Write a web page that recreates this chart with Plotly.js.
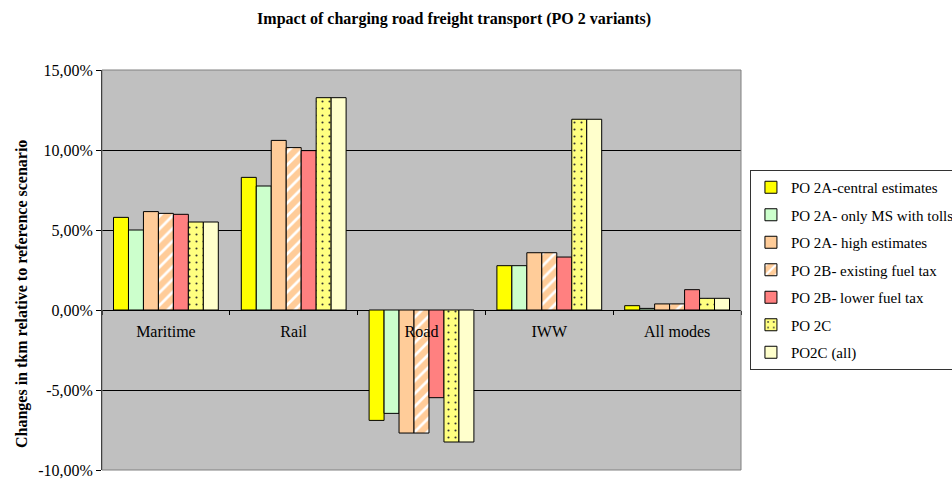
<!DOCTYPE html>
<html>
<head>
<meta charset="utf-8">
<script src="https://cdn.plot.ly/plotly-3.0.1.min.js"></script>
<style>html,body{margin:0;padding:0;background:#fff;}#chart{width:952px;height:479px;}</style>
</head>
<body>
<div id="chart"></div>
<script>
const categories = ["Maritime", "Rail", "Road", "IWW", "All modes"];
const seriesNames = ["PO 2A-central estimates", "PO 2A- only MS with tolls", "PO 2A- high estimates", "PO 2B- existing fuel tax", "PO 2B- lower fuel tax", "PO 2C", "PO2C (all)"];
const po2aCentral = [5.79, 8.29, -6.90, 2.77, 0.27];
const po2aOnlyMS = [5.00, 7.75, -6.46, 2.77, 0.10];
const po2aHigh = [6.15, 10.60, -7.69, 3.58, 0.38];
const po2bExisting = [6.04, 10.15, -7.69, 3.58, 0.38];
const po2bLower = [5.98, 9.96, -5.48, 3.31, 1.27];
const po2c = [5.50, 13.27, -8.25, 11.92, 0.73];
const po2cAll = [5.50, 13.27, -8.25, 11.92, 0.73];
const yTickVals = [-10, -5, 0, 5, 10, 15];
const yTickText = ["-10,00%", "-5,00%", "0,00%", "5,00%", "10,00%", "15,00%"];
const yTitle = "Changes in tkm relative to reference scenario";
const chartTitle = "Impact of charging road freight transport (PO 2 variants)";

const values = [po2aCentral, po2aOnlyMS, po2aHigh, po2bExisting, po2bLower, po2c, po2cAll];
const colors = ["#FFFF00", "#CCFFCC", "#FFCC99", "#FFCC99", "#FF8080", "#FFFF80", "#FFFFCC"];
const patterns = [null, null, null,
  {shape: "/", fgcolor: "#FFFFFF", bgcolor: "#FFCC99", size: 9, solidity: 0.3},
  null,
  {shape: ".", fgcolor: "#333333", bgcolor: "#FFFF80", size: 7, solidity: 0.07},
  null];

const FONT = "Times New Roman, Liberation Serif, Nimbus Roman, DejaVu Serif";
const FS = 16;
const traces = values.map((v, i) => {
  const marker = {color: colors[i], line: {color: "#000000", width: 1}};
  if (patterns[i]) marker.pattern = patterns[i];
  return {type: "bar", name: seriesNames[i], x: categories, y: v, marker: marker,
          legendgroup: "g" + i, hoverinfo: "x+y+name"};
});

const layout = {
  width: 952, height: 479,
  margin: {l: 102, r: 211, t: 70, b: 9, autoexpand: false},
  paper_bgcolor: "#FFFFFF",
  plot_bgcolor: "#C0C0C0",
  font: {family: FONT, size: FS, color: "#000000"},
  title: {text: "<b>" + chartTitle + "</b>",
          font: {family: FONT, size: 16, color: "#000"},
          xref: "container", x: 0.477, xanchor: "center",
          yref: "container", y: 1 - 18 / 479, yanchor: "middle"},
  barmode: "group",
  bargap: 0.18,
  bargroupgap: 0,
  showlegend: true,
  legend: {x: 1.014, xanchor: "left", y: 0.5, yanchor: "middle",
           bgcolor: "#FFFFFF", bordercolor: "#333333", borderwidth: 1,
           font: {family: FONT, size: 15, color: "#000"},
           traceorder: "grouped", tracegroupgap: 5, itemwidth: 30},
  xaxis: {
    type: "category",
    anchor: "free", position: 0.4,
    showgrid: false, showline: false, zeroline: false,
    ticks: "outside", tickson: "boundaries", ticklen: 4, tickcolor: "#000",
    ticklabelstandoff: 10,
    tickfont: {family: FONT, size: FS, color: "#000"},
    fixedrange: true
  },
  yaxis: {
    range: [-10, 15],
    tickvals: yTickVals, ticktext: yTickText,
    showgrid: true, gridcolor: "#000000", gridwidth: 1,
    zeroline: true, zerolinecolor: "#000000", zerolinewidth: 1,
    showline: true, linecolor: "#000000", linewidth: 1,
    ticks: "outside", ticklen: 5, tickcolor: "#000",
    ticklabeloverflow: "allow",
    tickfont: {family: FONT, size: FS, color: "#000"},
    automargin: false,
    fixedrange: true
  },
  annotations: [{text: "<b>" + yTitle + "</b>", textangle: -90,
                 xref: "paper", yref: "paper",
                 x: (22 - 102) / 639, y: (470 - 294) / 400,
                 xanchor: "center", yanchor: "middle", showarrow: false,
                 font: {family: FONT, size: 16, color: "#000"}}],
  shapes: [{type: "rect", xref: "paper", yref: "paper", x0: 0, x1: 1, y0: 0, y1: 1,
            line: {color: "#808080", width: 1}, layer: "above"}]
};

Plotly.newPlot("chart", traces, layout, {displayModeBar: false, staticPlot: true});
</script>
</body>
</html>
